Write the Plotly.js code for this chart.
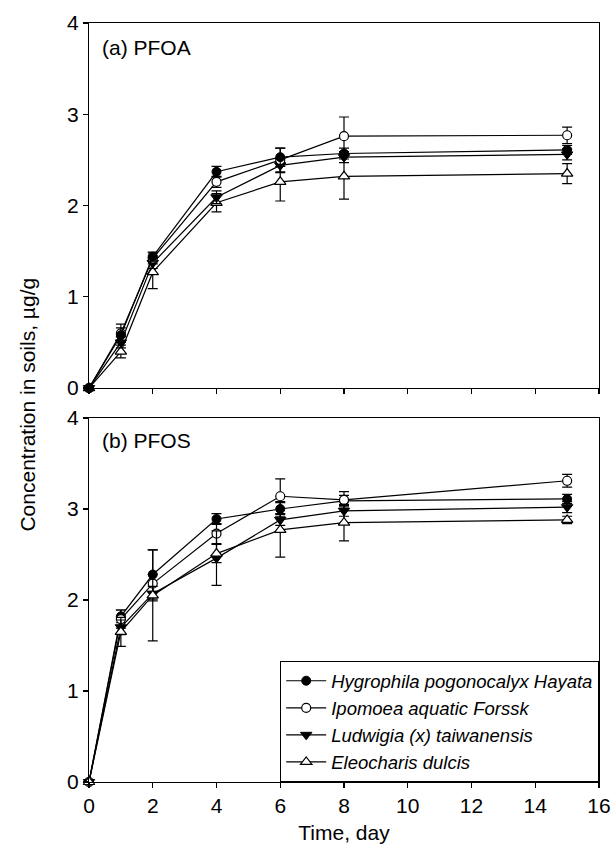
<!DOCTYPE html>
<html>
<head>
<meta charset="utf-8">
<script src="https://cdn.plot.ly/plotly-3.0.1.min.js"></script>
<style>html,body{margin:0;padding:0;background:#fff;}#chart{width:613px;height:844px;}</style>
</head>
<body>
<div id="chart"></div>
<script>
const days = [0, 1, 2, 4, 6, 8, 15];
const seriesNames = ["Hygrophila pogonocalyx Hayata", "Ipomoea aquatic Forssk", "Ludwigia (x) taiwanensis", "Eleocharis dulcis"];

// (a) PFOA
const pfoaHygrophila = [0, 0.58, 1.44, 2.37, 2.53, 2.57, 2.61];
const pfoaIpomoea    = [0, 0.60, 1.42, 2.26, 2.50, 2.76, 2.77];
const pfoaLudwigia   = [0, 0.50, 1.37, 2.09, 2.44, 2.53, 2.56];
const pfoaEleocharis = [0, 0.40, 1.27, 2.03, 2.26, 2.32, 2.35];
const pfoaHygrophilaErr = [0, 0.08, 0.05, 0.06, 0.10, 0.06, 0.05];
const pfoaIpomoeaErr    = [0, 0.10, 0.06, 0.06, 0.13, 0.21, 0.09];
const pfoaLudwigiaErr   = [0, 0.06, 0.06, 0.07, 0.08, 0.06, 0.06];
const pfoaEleocharisErr = [0, 0.07, 0.18, 0.10, 0.21, 0.25, 0.11];

// (b) PFOS
const pfosHygrophila = [0, 1.82, 2.28, 2.89, 3.00, 3.09, 3.11];
const pfosIpomoea    = [0, 1.79, 2.18, 2.73, 3.14, 3.10, 3.31];
const pfosLudwigia   = [0, 1.70, 2.07, 2.46, 2.88, 2.98, 3.02];
const pfosEleocharis = [0, 1.65, 2.05, 2.51, 2.77, 2.85, 2.88];
const pfosHygrophilaErr = [0, 0.07, 0.27, 0.06, 0.08, 0.06, 0.05];
const pfosIpomoeaErr    = [0, 0.10, 0.10, 0.11, 0.19, 0.09, 0.07];
const pfosLudwigiaErr   = [0, 0.08, 0.08, 0.30, 0.06, 0.06, 0.06];
const pfosEleocharisErr = [0, 0.16, 0.50, 0.10, 0.30, 0.20, 0.04];

const markerStyles = [
  {symbol: "circle", size: 9, color: "#000", line: {color: "#000", width: 1}},
  {symbol: "circle", size: 9, color: "#fff", line: {color: "#000", width: 1.2}},
  {symbol: "triangle-down", size: 10, color: "#000", line: {color: "#000", width: 1}},
  {symbol: "triangle-up", size: 10, color: "#fff", line: {color: "#000", width: 1.2}}
];

function mk(y, err, i, xa, ya, show) {
  return {
    x: days, y: y, type: "scatter", mode: "lines+markers",
    name: seriesNames[i], xaxis: xa, yaxis: ya, showlegend: show,
    cliponaxis: false,
    line: {color: "#000", width: 1.2},
    marker: markerStyles[i],
    error_y: {type: "data", array: err, visible: true, color: "#000", thickness: 1.2, width: 5}
  };
}

const topY = [pfoaHygrophila, pfoaIpomoea, pfoaLudwigia, pfoaEleocharis];
const topE = [pfoaHygrophilaErr, pfoaIpomoeaErr, pfoaLudwigiaErr, pfoaEleocharisErr];
const botY = [pfosHygrophila, pfosIpomoea, pfosLudwigia, pfosEleocharis];
const botE = [pfosHygrophilaErr, pfosIpomoeaErr, pfosLudwigiaErr, pfosEleocharisErr];

const data = [];
for (let i = 3; i >= 0; i--) data.push(mk(topY[i], topE[i], i, "x2", "y2", false));
for (let i = 0; i < 4; i++) data.push(mk(botY[i], botE[i], i, "x", "y", true));

const font = "Liberation Sans, Arial, Helvetica, sans-serif";
const axBase = {
  showline: true, linecolor: "#000", linewidth: 1.2, mirror: true,
  ticks: "outside", ticklen: 5, tickwidth: 1.2, tickcolor: "#000",
  showgrid: false, zeroline: false,
  tickfont: {family: font, size: 21, color: "#000"}
};

const layout = {
  width: 613, height: 844,
  margin: {l: 89, r: 14, t: 23, b: 62},
  paper_bgcolor: "#fff", plot_bgcolor: "#fff",
  font: {family: font, color: "#000"},
  showlegend: true,
  legend: {
    x: 1, xanchor: "right", y: 0, yanchor: "bottom",
    bgcolor: "#fff", bordercolor: "#000", borderwidth: 1.2,
    font: {family: font, size: 18.5, color: "#000", style: "italic"},
    traceorder: "normal", tracegroupgap: 0, itemwidth: 40
  },
  xaxis: Object.assign({}, axBase, {
    range: [0, 16], dtick: 2, tick0: 0, anchor: "y", domain: [0, 1],
    title: {text: "Time, day", font: {family: font, size: 21, color: "#000"}, standoff: 8}
  }),
  yaxis: Object.assign({}, axBase, {
    range: [0, 4], dtick: 1, domain: [0, 0.4796], anchor: "x"
  }),
  xaxis2: Object.assign({}, axBase, {
    range: [0, 16], dtick: 2, tick0: 0, anchor: "y2", domain: [0, 1], showticklabels: false
  }),
  yaxis2: Object.assign({}, axBase, {
    range: [0, 4], dtick: 1, domain: [0.519, 1], anchor: "x2"
  }),
  annotations: [
    {text: "(a) PFOA", xref: "x2 domain", yref: "y2 domain", x: 0.021, y: 0.934,
     xanchor: "left", yanchor: "middle", showarrow: false,
     font: {family: font, size: 21, color: "#000"}},
    {text: "(b) PFOS", xref: "x domain", yref: "y domain", x: 0.021, y: 0.937,
     xanchor: "left", yanchor: "middle", showarrow: false,
     font: {family: font, size: 21, color: "#000"}},
    {text: "Concentration in soils, µg/g", xref: "paper", yref: "paper", x: -0.12, y: 0.497,
     xanchor: "center", yanchor: "middle", textangle: -90, showarrow: false,
     font: {family: font, size: 21, color: "#000"}}
  ]
};

Plotly.newPlot("chart", data, layout, {displayModeBar: false, staticPlot: true});
</script>
</body>
</html>
